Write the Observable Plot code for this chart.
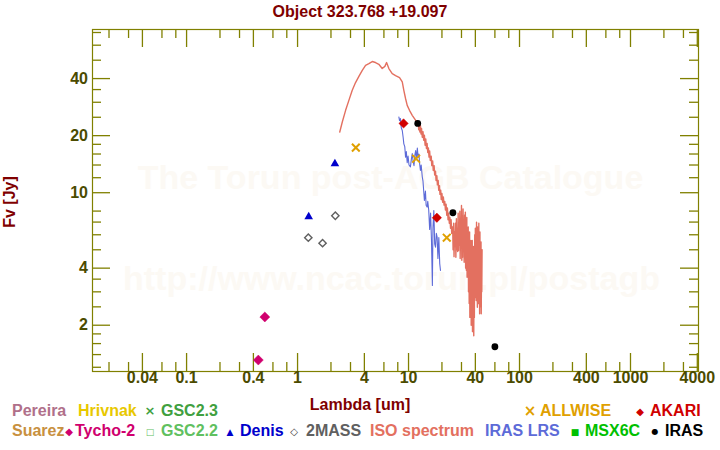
<!DOCTYPE html>
<html><head><meta charset="utf-8">
<script src="https://cdn.jsdelivr.net/npm/d3@7"></script>
<script src="https://cdn.jsdelivr.net/npm/@observablehq/plot@0.6"></script>
<style>
body{margin:0;background:#fff;}
#wrap{position:relative;width:720px;height:450px;font-family:"Liberation Sans",Arial,sans-serif;font-weight:bold;overflow:hidden;}
#wrap svg{position:absolute;left:0;top:0;}
.t{position:absolute;font-size:16px;line-height:16px;white-space:nowrap;font-weight:bold;}
.s{position:absolute;font-family:"DejaVu Sans",sans-serif;line-height:10px;white-space:nowrap;transform:translateX(-50%);}
</style></head>
<body><div id="wrap"></div>
<script>
// ---- data (wavelength in um, flux in Jy) ----
const isoSpectrum = [
[2.40,20.9],[2.53,23.6],[2.71,27.2],[2.90,30.7],[3.11,34.7],[3.33,38.1],[3.57,41.1],[3.83,44.2],[4.10,47.0],[4.39,48.0],
[4.71,49.2],[5.04,48.6],[5.40,47.6],[5.79,45.2],[6.12,46.4],[6.34,48.6],[6.65,45.2],[7.13,42.5],[7.64,41.5],[8.30,40.5],
[8.78,38.4],[9.07,34.7],[9.40,31.4],[9.73,28.9],[10.2,27.2],[10.8,25.6],[11.6,24.1],
[12.2,23.8],[12.35,21.5],[12.5,23.0],[12.65,20.9],[12.8,22.6],[12.95,20.4],[13.1,21.8],[13.3,19.6],[13.5,21.0],[13.7,18.9],
[13.9,20.1],[14.1,17.8],[14.3,19.2],[14.5,17.1],[14.7,18.2],[14.9,16.3],[15.1,17.2],[15.3,15.4],[15.5,16.6],[15.7,14.8],
[16.0,15.6],[16.2,13.9],[16.5,14.7],[16.7,13.1],[17.0,13.9],[17.2,12.4],[17.5,13.0],[17.7,11.6],[18.0,12.3],[18.2,11.0],
[18.5,11.6],[18.7,10.3],[19.0,10.9],[19.2,9.8],[19.5,10.3],[19.7,9.2],[20.0,9.9],[20.3,8.9],[20.6,9.5],[20.9,8.6],
[21.2,9.0],[21.5,8.1],[21.8,8.7],[22.1,7.6],[22.4,8.3],[22.7,7.2],[23.0,7.8],[23.3,6.9],[23.6,7.4],[23.9,6.5],
[24.2,7.2],[24.5,6.1],[24.8,6.6],
[25.0,6.6],[25.2,5.0],[25.5,6.9],[25.7,4.6],[26.0,6.2],[26.2,5.2],[26.5,6.9],[26.7,4.57],[27.0,7.3],[27.2,5.0],
[27.5,6.5],[27.7,4.9],[28.0,7.8],[28.2,4.96],[28.5,7.0],[28.7,5.3],[29.0,8.0],[29.2,4.5],[29.5,7.2],[29.7,5.5],
[30.0,8.57],[30.2,4.4],[30.5,7.5],[30.7,4.57],[31.0,8.2],[31.2,4.9],[31.5,7.0],[31.7,4.3],[32.0,7.6],[32.2,4.7],
[32.5,7.9],[32.7,4.0],[33.0,6.5],[33.2,3.9],[33.5,7.4],[33.7,3.58],[34.0,6.0],[34.2,4.2],[34.5,6.6],[34.7,3.0],
[35.0,5.8],[35.2,2.6],[35.5,6.2],[35.7,2.2],[36.0,5.4],[36.2,3.2],[36.5,5.6],[36.7,2.0],[37.0,4.8],[37.2,2.4],
[37.5,5.6],[37.7,1.85],[38.0,4.6],[38.2,2.7],[38.5,5.2],[38.7,1.76],[39.0,4.4],[39.2,2.2],[39.5,6.0],[39.7,2.8],
[40.0,6.5],[40.2,2.9],[40.5,5.8],[40.7,2.7],[41.0,6.99],[41.2,3.0],[41.5,6.0],[41.7,2.49],[42.0,6.6],[42.2,3.2],
[42.5,5.5],[42.7,2.6],[43.0,6.9],[43.2,3.0],[43.5,5.8],[43.7,2.3],[44.0,6.2],[44.2,2.6],[44.5,5.27],[44.7,2.5],
[45.0,5.5],[45.2,2.3],[45.5,4.2],[45.7,3.0],[46.0,5.0]
];
const irasLrsSpectrum = [
[8.18,25.1],[8.3,24.0],[8.45,24.6],[8.6,22.0],[8.78,21.3],[8.95,19.5],[9.07,18.1],[9.25,17.5],[9.4,15.4],[9.55,16.5],
[9.73,14.4],[9.9,15.6],[10.1,14.0],[10.4,13.7],[10.6,15.0],[10.8,16.1],[11.0,14.6],[11.2,13.9],[11.4,15.8],[11.6,16.7],
[11.8,15.0],[12.0,17.2],[12.2,15.4],[12.4,16.0],[12.6,14.2],[12.8,13.1],[13.0,14.0],[13.3,12.1],[13.5,11.5],[13.7,10.2],
[13.9,9.1],[14.2,10.2],[14.4,8.6],[14.7,8.4],[14.9,9.0],[15.2,8.1],[15.5,6.4],[15.8,7.8],[16.1,5.6],[16.4,3.24],
[16.6,6.5],[16.9,8.06],[17.2,5.38],[17.5,5.16],[17.8,6.1],[18.1,5.83],[18.4,4.5],[18.75,5.8],[19.1,4.23],[19.4,3.89]
];
const tycho2  = [[0.443,1.31],[0.507,2.21]];
const denis   = [[1.26,7.47],[2.17,14.2]];
const twoMass = [[1.25,5.79],[1.68,5.42],[2.19,7.56]];
const allwise = [[3.35,17.3],[11.7,15.1],[22.1,5.79]];
const akari   = [[9.02,23.2],[18.0,7.38]];
const iras    = [[12.1,23.2],[25.1,7.84],[60,1.54]];

const xMajorTicks = [0.04,0.1,0.4,1,4,10,40,100,400,1000,4000];
const xMinorTicks = [0.02,0.03,0.06,0.08,0.2,0.3,0.6,0.8,2,3,6,8,20,30,60,80,200,300,600,800,2000,3000];
const yMajorTicks = [2,4,10,20,40];
const yMinorTicks = [1.2,1.4,1.6,1.8,2.5,3,3.5,5,6,7,8,12,14,16,18,25,30,35,50,60,70];

const titleText = "Object 323.768 +19.097";
const xLabel = "Lambda [um]";
const yLabel = "Fv [Jy]";
const watermarks = ["The Torun post-AGB Catalogue","http://www.ncac.torun.pl/postagb"];

// ---- layout ----
const W=720,H=450,mL=92,mR=22,mT=29,mB=79;
const fw=W-mL-mR, fh=H-mT-mB;
const olive="#808000", tickLab="#4b4b00", maroon="#7f0000";
const X=d=>d[0], Y=d=>d[1];

const chart = Plot.plot({
  width:W,height:H,marginLeft:mL,marginRight:mR,marginTop:mT,marginBottom:mB,
  style:{background:"transparent",fontFamily:"Liberation Sans, Arial, sans-serif",overflow:"visible"},
  x:{type:"log",domain:[0.0142,4100],axis:null},
  y:{type:"log",domain:[1.14,72.6],axis:null},
  marks:[
    Plot.text([watermarks[0]],{text:d=>d,frameAnchor:"top",dx:-5,dy:135,fontSize:34,fontWeight:"bold",fill:"#fcf9f4"}),
    Plot.text([watermarks[1]],{text:d=>d,frameAnchor:"top",dx:-4,dy:236,fontSize:34,fontWeight:"bold",fill:"#fcf9f4"}),
    Plot.frame({stroke:olive,strokeWidth:1.2}),
    Plot.tickX(xMajorTicks,{x:d=>d,stroke:olive,strokeWidth:1.3,insetTop:fh-18}),
    Plot.tickX(xMinorTicks,{x:d=>d,stroke:olive,strokeWidth:1.3,insetTop:fh-9}),
    Plot.tickX(xMajorTicks,{x:d=>d,stroke:olive,strokeWidth:1.3,insetBottom:fh-18}),
    Plot.tickX(xMinorTicks,{x:d=>d,stroke:olive,strokeWidth:1.3,insetBottom:fh-9}),
    Plot.tickY(yMajorTicks,{y:d=>d,stroke:olive,strokeWidth:1.3,insetRight:fw-18}),
    Plot.tickY(yMinorTicks,{y:d=>d,stroke:olive,strokeWidth:1.3,insetRight:fw-9}),
    Plot.tickY(yMajorTicks,{y:d=>d,stroke:olive,strokeWidth:1.3,insetLeft:fw-18}),
    Plot.tickY(yMinorTicks,{y:d=>d,stroke:olive,strokeWidth:1.3,insetLeft:fw-9}),
    Plot.text(xMajorTicks,{x:d=>d,text:d=>String(d),frameAnchor:"bottom",dy:11,fontSize:16,fontWeight:"bold",fill:tickLab}),
    Plot.text(yMajorTicks,{y:d=>d,text:d=>String(d),frameAnchor:"left",textAnchor:"end",dx:-4.5,fontSize:16,fontWeight:"bold",fill:tickLab}),
    Plot.line(isoSpectrum,{x:X,y:Y,stroke:"#e37060",strokeWidth:1.4}),
    Plot.line(irasLrsSpectrum,{x:X,y:Y,stroke:"#5d6bd8",strokeWidth:1.1}),
    Plot.dot(tycho2,{x:X,y:Y,symbol:"diamond2",r:4.5,fill:"#d0006e",stroke:"#d0006e",strokeWidth:0.5}),
    Plot.dot(denis,{x:X,y:Y,symbol:"triangle",r:3.2,fill:"#0000cc",stroke:"none"}),
    Plot.dot(twoMass,{x:X,y:Y,symbol:"diamond2",r:3.3,fill:"none",stroke:"#606060",strokeWidth:1.4}),
    Plot.dot(allwise,{x:X,y:Y,symbol:"times",r:3.6,stroke:"#e0a000",strokeWidth:2}),
    Plot.dot(akari,{x:X,y:Y,symbol:"diamond2",r:4.2,fill:"#d00000",stroke:"#d00000",strokeWidth:0.5}),
    Plot.dot(iras,{x:X,y:Y,symbol:"circle",r:3.4,fill:"#000",stroke:"none"})
  ]
});
const wrap=document.getElementById("wrap");
wrap.appendChild(chart);

function addText(txt,left,top,color,extra){
  const el=document.createElement("div");
  el.className="t"; el.textContent=txt;
  el.style.left=left+"px"; el.style.top=top+"px"; el.style.color=color;
  if(extra) Object.assign(el.style,extra);
  wrap.appendChild(el); return el;
}
function addSym(ch,cx,top,color,size){
  const el=document.createElement("div");
  el.className="s"; el.textContent=ch;
  el.style.left=cx+"px"; el.style.top=top+"px"; el.style.color=color; el.style.fontSize=size+"px";
  wrap.appendChild(el);
}
// title and axis labels
addText(titleText,360,3.5,maroon,{transform:"translateX(-50%)"});
addText(xLabel,360,396.5,maroon,{transform:"translateX(-50%)"});
addText(yLabel,10,202,maroon,{transform:"translate(-50%,-50%) rotate(-90deg)",lineHeight:"16px"});

// legend
const r1=402.5, r2=422.5;
const legendRow1 = [["Pereira",12,"#b0708a"],["Hrivnak",78,"#e8c800"],["GSC2.3",161,"#40a040"],["ALLWISE",540,"#e0a000"],["AKARI",650,"#d00000"]];
const legendRow2 = [["Suarez",12,"#c89040"],["Tycho-2",75,"#d0006e"],["GSC2.2",161,"#60c060"],["Denis",240,"#0000cc"],["2MASS",306,"#606060"],["ISO spectrum",370,"#e37060"],["IRAS LRS",485,"#5d6bd8"],["MSX6C",585,"#00c000"],["IRAS",665,"#000000"]];
legendRow1.forEach(([t,x,c])=>addText(t,x,r1,c));
legendRow2.forEach(([t,x,c])=>addText(t,x,r2,c));
addSym("×",150,r1+3,"#40a040",13);
addSym("×",530,r1+3,"#e0a000",15);
addSym("◆",640,r1+4,"#d00000",10);
addSym("◆",69,r2+4,"#d0006e",10);
addSym("□",150,r2+4,"#60c060",9);
addSym("▲",230,r2+4,"#0000cc",9);
addSym("◇",294,r2+4,"#404040",10);
addSym("■",575,r2+4,"#00c000",9);
addSym("●",655,r2+4,"#000000",8);
</script>
</body></html>
